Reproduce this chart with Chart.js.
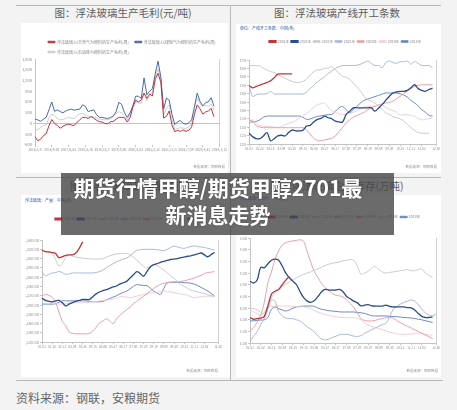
<!DOCTYPE html>
<html>
<head>
<meta charset="utf-8">
<script src="https://cdn.jsdelivr.net/npm/chart.js@4.4.1/dist/chart.umd.min.js"></script>
<style>
body{margin:0;width:457px;height:410px;background:#f3f3f3;position:relative;overflow:hidden;font-family:"Noto Sans CJK SC","Noto Sans",sans-serif}
.hl{position:absolute;height:1px;background:#b8b8b8}
.vl{position:absolute;width:1px;background:#b8b8b8}
.title{position:absolute;font-size:10.5px;color:#5c5c5c;white-space:nowrap;transform:translateX(-50%)}
.panel{position:absolute;background:#fff}
.panel canvas{position:absolute;left:0;top:0}
.foot{position:absolute;left:16px;top:389px;font-size:12px;color:#666}
.banner{position:absolute;left:61px;top:173px;width:333px;height:62px;background:rgba(70,70,70,0.8)}
.btxt{position:absolute;left:0;top:174px;width:436px;text-align:center;color:#fff;font-weight:700;font-size:21px;line-height:27px;text-shadow:0 0 2px rgba(0,0,0,0.35)}
</style>
</head>
<body>
<div class="hl" style="left:16px;top:5px;width:425px"></div>
<div class="hl" style="left:16px;top:177px;width:425px"></div>
<div class="hl" style="left:16px;top:380px;width:427px"></div>
<div class="vl" style="left:230px;top:5px;height:376px"></div>

<div class="title" style="left:123px;top:5px">图：浮法玻璃生产毛利(元/吨)</div>
<div class="title" style="left:337px;top:5px">图：浮法玻璃产线开工条数</div>
<div class="title" style="left:126px;top:178px">图：浮法玻璃日熔量(吨)</div>
<div class="title" style="left:337px;top:178px">图：浮法玻璃企业库存(万吨)</div>

<div class="panel" style="left:21px;top:23px;width:207px;height:150px"><canvas id="cMargin" width="207" height="150"></canvas></div>
<div class="panel" style="left:236px;top:24px;width:205px;height:149px"><canvas id="cLines" width="205" height="149"></canvas></div>
<div class="panel" style="left:21px;top:195px;width:209px;height:182px"><canvas id="cOutput" width="209" height="182"></canvas></div>
<div class="panel" style="left:236px;top:195px;width:205px;height:182px"><canvas id="cStock" width="205" height="182"></canvas></div>

<div class="foot">资料来源：钢联，安粮期货</div>

<div class="banner"></div>
<div class="btxt">期货行情甲醇/期货甲醇2701最<br>新消息走势</div>

<script>
// 生产毛利
const marginTicks = ['2016/1/8','2016/9/30','2017/6/23','2018/3/16','2018/12/7','2019/8/30','2020/5/22','2021/2/12','2021/11/5','2022/7/29','2023/4/21','2024/1/12'];
const marginNames = ['浮法玻璃:以天然气为燃料的生产毛利(周)', '浮法玻璃:以煤制气为燃料的生产毛利(周)', '浮法玻璃:以石油焦为燃料的生产毛利(周)'];
const marginRed = [-370,-480,-440,-340,-290,-60,110,0,-60,-130,-80,-40,-20,-40,-60,30,100,170,170,140,190,150,90,50,40,0,-10,50,60,120,170,170,160,40,160,450,650,600,660,850,700,820,770,1230,1400,1150,150,200,350,-50,-230,-190,-220,-180,-220,-190,-100,250,520,410,260,320,350,420,190];
const marginBlue = [120,100,60,120,170,380,600,340,380,330,300,350,380,400,370,390,400,520,480,330,360,380,250,170,170,150,140,165,210,330,590,530,300,170,300,490,760,760,700,1270,800,900,980,1390,1740,1300,400,710,650,250,-30,50,80,0,-20,20,100,450,850,620,490,580,600,720,480];
const marginGrey = [-150,-180,-110,-60,-40,150,260,210,150,100,120,140,170,150,140,210,260,280,230,200,200,190,150,120,110,100,110,130,200,280,330,290,220,100,260,520,600,580,560,850,640,780,880,1300,1520,1250,240,420,520,100,-170,-140,-120,-130,-140,-90,0,450,700,550,490,500,480,540,380];

// 季节性图共用
const weekTicks = ['01-01','01-22','02-12','03-04','03-25','04-15','05-06','05-27','06-17','07-08','07-29','08-19','09-09','09-30','10-21','11-11','12-02','12-30'];
const years = ['2024年','2023年','2022年','2021年','2020年','2019年','2018年'];

// 产线开工条数
const lines2024 = [254.7,253.5,254.3,255.1,255.9,256.7,257.6,259.4,261.6,261.8,261.8,261.8,261.8];
const lines2023 = [226.5,224.5,223.3,223.3,224.9,226.9,222.0,223.3,224.9,225.3,224.9,226.9,228.4,227.9,227.9,228.3,230.8,231.2,233.2,234.7,235.3,236.7,235.7,235.1,233.7,233.2,233.2,237.7,239.6,241.6,241.6,241.6,241.6,241.6,241.6,239.6,241.5,243.5,246,248.5,250.4,251,251.4,251.4,252,253.5,255.3,253,252,251.4,252.5,253.3];
const lines2022 = [266.7,266.7,266.7,266.5,265.1,264.1,263.1,262.6,261.2,260.2,259.2,258.2,257.3,256.7,256.7,257.3,258.6,261.2,263.1,264.1,264.1,265.1,265.1,266.1,264.1,262.2,260.2,259.8,258.6,256.3,253.9,251.4,248.4,246.5,245.5,244.5,242.6,240.6,238.6,237.7,236.3,235.7,235.1,233.7,231.8,229.8,228.3,226.9,226.5,226.5,226.5];
const lines2021 = [255.3,248.4,249.4,249.8,249.8,250,251.4,249.8,249.8,249.8,249.8,249.8,249.8,249.8,249.8,249.8,251,253,255,257,258.5,260,262,263.5,265,266,266.7,266.7,266.7,266.7,266.9,267.5,268.5,269.4,268,266.7,266.7,265.5,268.5,269.4,268.5,268,269,269,269.4,267.5,269,268,266.7,266.7,266.7,265.5];
const lines2020 = [234.3,233.8,231,230.2,229.8,229.8,229.8,229.8,229.8,229.8,229.8,229.8,229.8,229.8,229.8,229.8,228.5,226,223.5,222.2,222,222.5,223,223.5,225,227.5,230,232.5,234.5,236,237,238,239,240.5,241.5,242.5,243.3,244,244.5,245,245.5,247,248.5,250,251.5,253,254.3,255,255.3,255.3,255.3,255.3];
const lines2019 = [233.2,234.5,232.5,231,230.6,230.5,230.4,230.2,229.9,230.5,231.5,232.5,233.2,234,235.5,237,238.4,240,242,243.5,244,244.5,242,239.8,238.8,238,237.7,237.8,238.2,239,239.8,241,242.2,242.4,242.5,242.6,243.2,243.3,241.8,240.6,240,239,237.3,237.5,237.6,237,236.7,235.3,234.4,234.8,235.1,235.6];
const lines2018 = [233.2,233.2,233.5,234.5,236,236.7,236.7,236.7,236.7,236.7,236.7,236.7,236.7,236.7,236.7,236,234.7,235,235.8,236.5,236.8,237.2,237.5,237.7,239.5,241.6,242.4,240.5,238.6,240.5,242.5,244.5,246,246.8,247.5,248.3,249,249.8,250.4,250.4,250.4,250.4,250,249.2,248,246,244.5,242.8,240.5,239,237.2,236.7];

// 日熔量
const output2024 = [1318,1315,1314,1313,1311,1302,1304,1307,1308,1308,1312,1322,1336];
const output2023 = [1215,1210,1208,1207,1209,1210,1205,1198,1202,1205,1208,1210,1212,1212,1212,1218,1224,1228,1231,1233,1236,1239,1241,1245,1248,1251,1258,1265,1272,1268,1262,1272,1282,1287,1289,1292,1294,1296,1298,1299,1300,1302,1303,1305,1306,1308,1310,1312,1308,1304,1309,1313];
const output2022 = [1318,1316,1315,1312,1298,1284,1290,1302,1308,1305,1303,1302,1301,1300,1300,1299,1299,1299,1300,1303,1306,1308,1310,1311,1311,1311,1308,1303,1297,1290,1283,1280,1284,1287,1285,1280,1275,1270,1262,1258,1250,1244,1240,1236,1232,1230,1228,1226,1225,1222,1220,1219];
const output2021 = [1272,1263,1266,1269,1270,1272,1270,1266,1267,1269,1269,1269,1269,1269,1269,1269,1270,1272,1275,1280,1285,1289,1293,1296,1299,1301,1306,1312,1318,1319,1320,1320,1320,1320,1319,1318,1317,1320,1324,1327,1325,1323,1322,1324,1326,1327,1326,1325,1324,1322,1320,1318];
const output2020 = [1219,1223,1221,1217,1206,1185,1165,1156,1142,1139,1138,1138,1138,1138,1139,1144,1152,1162,1166,1170,1166,1160,1170,1178,1184,1190,1196,1203,1208,1214,1219,1224,1230,1236,1241,1244,1247,1248,1249,1250,1250,1251,1252,1254,1256,1258,1261,1264,1268,1270,1271,1272];
const output2019 = [1216,1213,1208,1205,1203,1202,1202,1203,1204,1205,1205,1205,1205,1205,1206,1207,1208,1209,1210,1211,1211,1212,1214,1218,1218,1217,1216,1217,1219,1221,1223,1225,1226,1227,1228,1229,1230,1229,1228,1227,1225,1224,1223,1221,1218,1216,1217,1218,1219,1219,1219,1219];
const output2018 = [1202,1202,1202,1202,1203,1206,1209,1209,1209,1209,1209,1209,1209,1209,1208,1207,1207,1207,1208,1211,1214,1217,1220,1224,1227,1230,1235,1240,1244,1243,1242,1242,1236,1230,1226,1223,1236,1248,1249,1249,1249,1249,1248,1248,1247,1245,1242,1238,1234,1230,1225,1219];

// 企业库存
const stock2024 = [3.2,3.05,3.1,3.15,3.3,4.2,5.2,5.45,5.6,6.0,6.4,6.7];
const stock2023 = [6.3,6.15,6.4,7.5,7.45,7.8,8.1,8.2,8.1,7.6,7.0,6.6,6.3,6.0,5.4,4.9,4.6,4.5,4.65,5.0,5.4,5.6,5.55,5.55,5.55,5.6,5.4,5.0,4.8,4.6,4.45,4.2,4.25,4.3,4.2,4.18,4.18,4.18,4.25,4.15,4.1,4.1,4.1,4.1,4.05,4.03,3.85,3.55,3.3,3.2,3.2,3.25];
const stock2022 = [4.0,3.95,3.85,3.65,3.6,4.2,4.9,5.3,5.6,5.85,6.05,6.25,6.45,6.6,6.75,6.9,7.0,7.1,7.25,7.35,7.5,7.65,7.75,7.85,7.9,7.95,8.05,8.1,8.15,8.1,7.6,6.9,7.0,7.15,7.4,7.55,7.3,7.1,7.0,7.05,7.1,7.15,7.2,7.25,7.3,7.2,7.2,7.3,7.35,7.0,6.8,6.6];
const stock2021 = [1.2,1.6,2.0,2.6,3.1,3.9,4.7,4.6,3.7,3.35,3.15,3.1,3.1,3.0,2.9,2.65,2.4,2.2,1.95,1.6,1.35,1.28,1.35,1.48,1.6,1.72,1.76,1.76,1.7,1.6,1.58,1.65,1.85,2.0,2.15,2.3,2.45,2.6,2.7,3.3,3.9,4.15,4.35,4.5,4.6,4.7,4.6,4.3,3.9,3.6,3.4,3.35,3.5];
const stock2020 = [2.05,2.35,2.8,3.4,4.5,6.2,7.1,8.2,8.9,9.4,9.6,9.7,9.75,9.8,9.85,9.7,8.8,7.9,7.1,6.6,6.1,5.75,5.5,5.25,5.1,5.05,4.95,4.7,4.4,4.05,3.6,3.1,2.95,2.9,2.9,2.95,3.05,3.1,3.18,3.18,3.15,2.95,2.75,2.6,2.45,2.3,2.15,2.0,1.85,1.7,1.55,1.4];
const stock2019 = [3.9,3.7,3.5,3.4,3.6,4.1,4.15,4.18,4.18,4.18,4.18,4.18,4.15,4.12,4.1,4.1,4.03,3.95,3.8,3.65,3.55,3.45,3.38,3.3,3.25,3.22,3.2,3.18,3.18,3.18,3.15,3.0,2.75,2.55,2.45,2.35,2.25,2.15,2.05,1.95,1.88,1.8,1.77,1.76,1.76,1.78,1.82,1.88,1.85,1.75,1.7,1.7];
const stock2018 = [2.9,2.92,2.95,2.98,3.0,3.2,3.9,4.1,3.95,3.85,3.75,3.85,4.0,4.1,4.15,4.18,4.18,4.18,4.15,4.0,3.9,3.85,3.78,3.75,3.72,3.68,3.67,3.67,3.67,3.67,3.63,3.6,3.55,3.45,3.35,3.33,3.33,3.33,3.33,3.3,3.28,3.27,3.24,3.2,3.18,3.15,3.12,3.05,3.0,2.92,2.85,2.78];

const yearColors = ['#c0363c', '#2b4c8c', '#cbcbcb', '#a9b9da', '#eaa0a7', '#f3cfd2', '#6f88bf'];
const yearWidths = [1.3, 1.3, 1, 1, 1, 1, 1];

Chart.defaults.font.family = '"Noto Sans CJK SC", "Noto Sans", sans-serif';
Chart.defaults.font.size = 4;
Chart.defaults.color = '#8c8c8c';
Chart.defaults.animation = false;
Chart.defaults.responsive = false;
Chart.defaults.devicePixelRatio = 1;

// 图例挪到原图的位置
function shiftLegend(dx, dy) {
    return {
        id: 'shiftLegend',
        afterLayout(chart) {
            chart.legend.left += dx;
            chart.legend.right += dx;
            chart.legend.top += dy;
            chart.legend.bottom += dy;
        }
    };
}

function makeDataset(label, data, color, width, tension) {
    return {
        label: label,
        data: data,
        borderColor: color,
        backgroundColor: color,
        borderWidth: width,
        pointRadius: 0,
        tension: tension
    };
}

function baseOptions(o) {
    return {
        layout: { padding: o.padding },
        plugins: {
            legend: {
                position: 'top',
                align: 'start',
                labels: { boxWidth: o.boxWidth, boxHeight: 1.5, padding: o.legendPad, color: '#888', font: { size: o.legendFont } }
            },
            title: {
                display: !!o.unit,
                text: o.unit,
                align: 'start',
                color: '#2f56a8',
                font: { size: 4, weight: 'normal' },
                padding: o.titlePad
            },
            subtitle: {
                display: true,
                text: '数据来源：钢联数据',
                position: 'bottom',
                align: 'end',
                color: '#999',
                font: { size: 3.5 },
                padding: o.srcPad
            },
            tooltip: { enabled: false }
        },
        scales: {
            x: {
                type: 'category',
                grid: { drawOnChartArea: false, tickLength: 2, color: '#c4c4c4' },
                border: { display: o.xBorder, color: '#c4c4c4' },
                ticks: {
                    autoSkip: false, maxRotation: 0, padding: 1, color: '#8c8c8c',
                    font: { size: o.xFont },
                    callback: function (v) {
                        const t = this.getLabelForValue(v);
                        return t === '' ? null : t;
                    }
                }
            },
            y: {
                min: o.yMin, max: o.yMax,
                grid: o.yGrid,
                border: { display: true, color: '#c4c4c4' },
                ticks: { stepSize: o.yStep, padding: 1, color: '#8c8c8c', callback: o.yFmt },
                afterFit: s => { s.width = o.yWidth; }
            },
            yr: {
                position: 'right',
                min: o.yMin, max: o.yMax,
                grid: { display: false },
                border: { display: true, color: '#d0d0d0' },
                ticks: { display: false },
                afterFit: s => { s.width = 0; }
            }
        }
    };
}

// 周度横轴：每三周标一次，最后一周单独标
const weekLabels = [];
for (let w = 0; w <= 52; w++) {
    if (w % 3 === 0 && w <= 48) weekLabels.push(weekTicks[w / 3]);
    else if (w === 52) weekLabels.push(weekTicks[17]);
    else weekLabels.push('');
}

const marginLabels = [];
for (let i = 0; i <= 66; i++) {
    marginLabels.push(i % 6 === 0 ? marginTicks[i / 6] : '');
}

function seasonalSets(list) {
    return list.map((d, k) => makeDataset(years[k], d, yearColors[k], yearWidths[k], 0.35));
}

const seasonGrid = { drawOnChartArea: false, tickLength: 2, color: '#c4c4c4' };

// 生产毛利
new Chart(document.getElementById('cMargin'), {
    type: 'line',
    data: {
        labels: marginLabels,
        datasets: [
            makeDataset(marginNames[0], marginRed, '#c3343b', 1, 0),
            makeDataset(marginNames[1], marginBlue, '#4a6aa8', 1, 0),
            makeDataset(marginNames[2], marginGrey, '#cdcdcd', 1, 0)
        ]
    },
    options: baseOptions({
        padding: { left: 0, right: 3, top: 6, bottom: 2 },
        boxWidth: 7, legendPad: 6, legendFont: 4,
        unit: '', titlePad: 0, srcPad: { top: 12, bottom: 2 },
        xBorder: false, xFont: 3.2,
        yMin: -600, yMax: 1800, yStep: 300, yWidth: 14,
        yFmt: v => v.toLocaleString('en-US'),
        yGrid: { drawOnChartArea: true, tickLength: 2, color: c => c.tick && c.tick.value === 0 ? '#c4c4c4' : 'rgba(0,0,0,0)' }
    }),
    plugins: [shiftLegend(21, 5)]
});

// 产线开工条数
new Chart(document.getElementById('cLines'), {
    type: 'line',
    data: {
        labels: weekLabels,
        datasets: seasonalSets([lines2024, lines2023, lines2022, lines2021, lines2020, lines2019, lines2018])
    },
    options: baseOptions({
        padding: { left: 4, right: 4, top: 2, bottom: 2 },
        boxWidth: 7, legendPad: 2, legendFont: 3.5,
        unit: '单位：产线开工条数：中国(条)', titlePad: { top: 0, bottom: 13.7 }, srcPad: { top: 13, bottom: 2 },
        xBorder: true, xFont: 3,
        yMin: 220, yMax: 270, yStep: 5, yWidth: 9,
        yFmt: v => v,
        yGrid: seasonGrid
    }),
    plugins: [shiftLegend(27, -6.75)]
});

// 日熔量
new Chart(document.getElementById('cOutput'), {
    type: 'line',
    data: {
        labels: weekLabels,
        datasets: seasonalSets([output2024, output2023, output2022, output2021, output2020, output2019, output2018])
    },
    options: baseOptions({
        padding: { left: 4, right: 12, top: 3, bottom: 2 },
        boxWidth: 7, legendPad: 2, legendFont: 3.5,
        unit: '浮法玻璃：产量：中国(周)', titlePad: { top: 0, bottom: 21.7 }, srcPad: { top: 19, bottom: 2 },
        xBorder: true, xFont: 3,
        yMin: 1120, yMax: 1340, yStep: 20, yWidth: 17,
        yFmt: v => v.toLocaleString('en-US', { minimumFractionDigits: 2 }),
        yGrid: seasonGrid
    }),
    plugins: [shiftLegend(28, -9.25)]
});

// 企业库存
new Chart(document.getElementById('cStock'), {
    type: 'line',
    data: {
        labels: weekLabels,
        datasets: seasonalSets([stock2024, stock2023, stock2022, stock2021, stock2020, stock2019, stock2018])
    },
    options: baseOptions({
        padding: { left: 4, right: 3, top: 1, bottom: 2 },
        boxWidth: 7, legendPad: 2, legendFont: 3.5,
        unit: '浮法玻璃：库存：中国(周)', titlePad: { top: 0, bottom: 21.7 }, srcPad: { top: 18, bottom: 2 },
        xBorder: true, xFont: 3,
        yMin: 1, yMax: 10, yStep: 1, yWidth: 10,
        yFmt: v => v.toFixed(2),
        yGrid: seasonGrid
    }),
    plugins: [shiftLegend(26, -9.25)]
});
</script>
</body>
</html>
